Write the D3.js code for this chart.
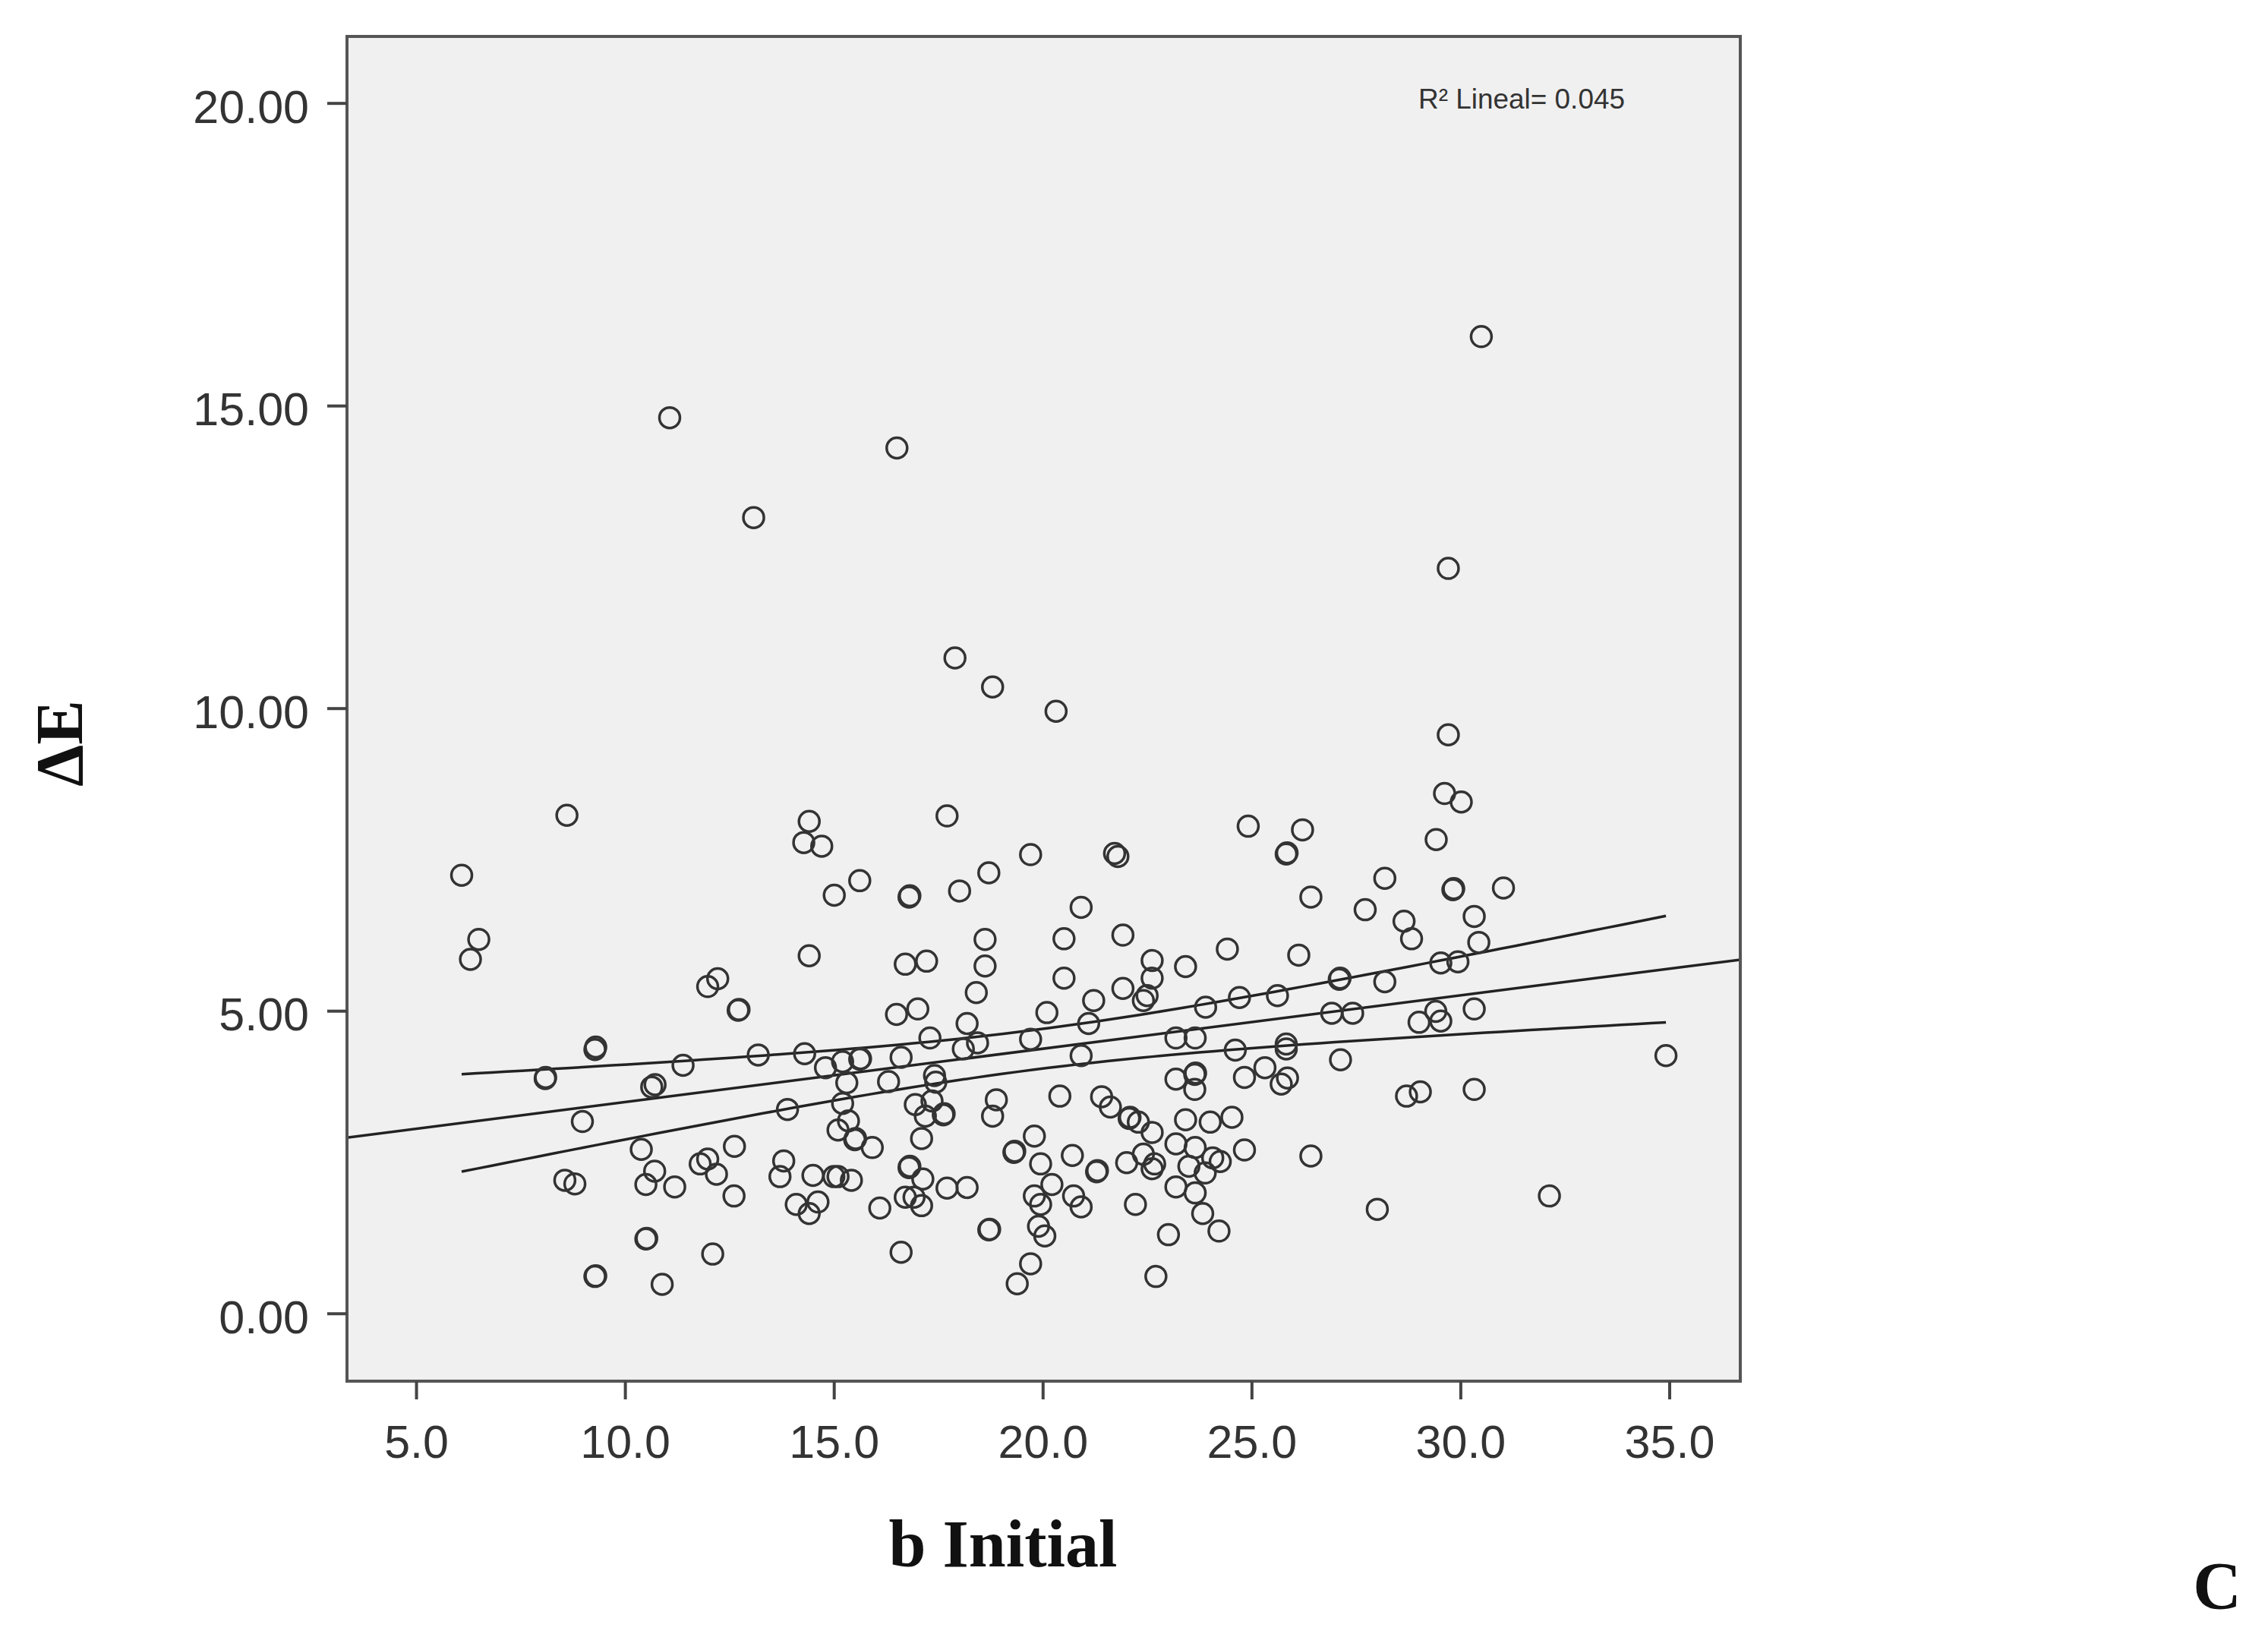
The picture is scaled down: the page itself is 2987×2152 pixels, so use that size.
<!DOCTYPE html>
<html>
<head>
<meta charset="utf-8">
<script src="https://cdn.jsdelivr.net/npm/d3@7"></script>
<style>
  html, body { margin: 0; padding: 0; background: #ffffff; }
  svg { display: block; }
</style>
</head>
<body>
<svg id="chart" width="2987" height="2152"></svg>
<script>
// ---- Data ----
const bInitial = [
  8.61,6.09,6.50,6.30,9.28,9.30,8.09,8.10,11.39,10.64,10.72,8.98,10.39,10.71,10.50,11.19,8.56,8.80,10.50,10.52,9.28,9.30,10.89,
  14.41,14.28,14.71,15.62,15.01,17.71,19.71,18.71,18.01,16.80,16.82,14.41,16.71,17.22,18.62,18.62,18.41,17.01,16.50,12.22,11.98,12.71,12.73,18.19,
  13.19,14.30,14.80,15.21,15.62,15.64,16.61,17.30,18.10,18.44,19.71,15.31,16.31,17.41,17.44,17.35,16.95,17.62,17.64,17.19,17.10,
  15.21,15.35,15.10,15.50,15.52,15.92,13.89,12.62,11.98,11.80,12.19,12.61,13.80,13.71,14.50,15.00,15.10,15.42,14.10,14.62,14.41,16.10,
  16.80,16.82,17.13,16.71,16.92,17.10,17.71,18.19,18.89,18.80,19.80,19.31,19.33,19.95,19.80,19.95,19.90,20.05,20.22,18.71,18.73,16.61,12.10,19.71,19.39,
  24.92,26.22,25.83,25.85,21.72,21.80,20.92,20.51,21.92,26.42,28.19,27.72,24.42,26.13,20.51,23.42,22.62,22.62,21.92,22.50,22.41,21.22,20.10,21.10,
  23.90,24.71,25.62,27.10,27.12,28.19,26.92,27.42,
  20.92,23.19,23.65,24.61,25.83,25.83,27.13,20.41,23.19,23.64,23.66,23.64,24.83,25.32,25.86,25.71,21.41,21.62,22.07,22.09,22.29,22.62,23.42,24.01,24.53,
  23.19,23.65,24.07,24.25,24.83,20.71,21.29,21.31,22.01,22.41,22.68,22.62,23.50,23.89,20.74,20.92,23.19,23.65,23.83,24.22,22.22,23.01,22.71,26.42,28.01,
  29.71,29.62,30.02,29.42,29.82,29.84,31.03,28.65,28.83,30.33,30.44,29.53,29.94,30.33,29.41,29.53,29.01,34.92,28.71,29.04,30.33,32.13,
  11.07,16.51,13.08,17.90,18.80,20.32,29.71,30.50
];
const deltaE = [
  8.23,7.24,6.18,5.85,4.36,4.40,3.88,3.90,4.10,3.74,3.78,3.17,2.71,2.35,2.13,2.09,2.20,2.14,1.23,1.24,0.61,0.62,0.48,
  8.13,7.78,7.72,7.15,6.91,8.22,7.58,7.28,6.98,6.88,6.90,5.91,5.77,5.82,6.18,5.74,5.30,5.03,4.94,5.53,5.40,5.01,5.02,4.79,
  4.27,4.29,4.06,4.16,4.20,4.21,4.23,4.55,4.37,4.47,4.53,3.81,3.83,3.93,3.82,3.51,3.45,3.28,3.30,3.26,2.89,
  3.47,3.18,3.03,2.87,2.89,2.74,3.37,2.76,2.55,2.47,2.30,1.94,2.52,2.26,2.28,2.26,2.26,2.20,1.80,1.84,1.65,1.74,
  2.41,2.43,2.22,1.92,1.92,1.78,2.07,2.08,3.53,3.26,2.93,2.66,2.68,2.47,1.94,1.80,1.44,1.28,2.13,1.38,1.39,1.01,0.98,0.82,0.49,
  8.05,7.99,7.59,7.61,7.60,7.55,6.71,6.19,6.25,6.88,7.19,6.67,6.02,5.92,5.54,5.73,5.83,5.54,5.37,5.25,5.17,5.17,4.97,4.79,
  5.06,5.22,5.25,5.52,5.54,5.48,4.96,4.96,
  4.26,4.55,4.55,4.35,4.45,4.37,4.19,3.59,3.87,3.95,3.97,3.70,3.90,4.06,3.89,3.79,3.58,3.41,3.22,3.24,3.16,2.99,3.20,3.16,3.24,
  2.80,2.74,2.57,2.51,2.70,2.61,2.34,2.36,2.49,2.63,2.47,2.39,2.43,2.32,1.94,1.76,2.09,1.99,1.65,1.36,1.80,1.30,0.61,2.60,1.72,
  9.56,8.59,8.45,7.83,7.00,7.02,7.03,6.48,6.19,6.56,6.13,5.79,5.81,5.03,4.99,4.83,4.81,4.26,3.59,3.66,3.70,1.94,
  14.80,14.30,13.15,10.83,10.35,9.95,12.31,16.14
];
const xTicks = [5, 10, 15, 20, 25, 30, 35];
const yTicks = [0, 5, 10, 15, 20];
const xTitle = "b Initial";
const yTitle = "ΔE";
const fitLabel = "R² Lineal= 0.045";
const panelLetter = "C";

// ---- Layout ----
const W = 2987, H = 2152;
const box = { left: 457, right: 2292, top: 48, bottom: 1819 };

const svg = d3.select("#chart");
svg.append("rect").attr("x", 0).attr("y", 0).attr("width", W).attr("height", H).attr("fill", "#ffffff");

const x = d3.scaleLinear().domain([3.345, 36.7]).range([box.left, box.right]);
const y = d3.scaleLinear().domain([-1.12, 21.1]).range([box.bottom, box.top]);

// plot background
svg.append("rect")
  .attr("x", box.left).attr("y", box.top)
  .attr("width", box.right - box.left).attr("height", box.bottom - box.top)
  .attr("fill", "#f0f0f0");

const clip = svg.append("clipPath").attr("id", "plotclip")
  .append("rect")
  .attr("x", box.left).attr("y", box.top)
  .attr("width", box.right - box.left).attr("height", box.bottom - box.top);

const data = bInitial.map((v, i) => ({ b: v, e: deltaE[i] }));

// ---- Linear fit and 95% mean confidence band ----
const n = data.length;
const xbar = d3.mean(data, d => d.b);
const ybar = d3.mean(data, d => d.e);
const Sxx = d3.sum(data, d => (d.b - xbar) ** 2);
const Sxy = d3.sum(data, d => (d.b - xbar) * (d.e - ybar));
const slope = Sxy / Sxx;
const icpt = ybar - slope * xbar;
const sse = d3.sum(data, d => (d.e - (icpt + slope * d.b)) ** 2);
const sres = Math.sqrt(sse / (n - 2));
const tcrit = 1.97;
const xmin = d3.min(data, d => d.b), xmax = d3.max(data, d => d.b);
const bandX = d3.range(0, 81).map(i => xmin + (xmax - xmin) * i / 80);
const half = xv => tcrit * sres * Math.sqrt(1 / n + (xv - xbar) ** 2 / Sxx);

const line = d3.line().x(d => x(d[0])).y(d => y(d[1]));
const lines = svg.append("g").attr("clip-path", "url(#plotclip)")
  .attr("fill", "none").attr("stroke", "#222").attr("stroke-width", 3.5);
lines.append("path").attr("d", line(x.domain().map(xv => [xv, icpt + slope * xv])));
lines.append("path").attr("d", line(bandX.map(xv => [xv, icpt + slope * xv + half(xv)])));
lines.append("path").attr("d", line(bandX.map(xv => [xv, icpt + slope * xv - half(xv)])));

// ---- Points ----
svg.append("g").attr("clip-path", "url(#plotclip)")
  .selectAll("circle").data(data).join("circle")
  .attr("cx", d => x(d.b)).attr("cy", d => y(d.e)).attr("r", 13.5)
  .attr("fill", "none").attr("stroke", "#333").attr("stroke-width", 3.5);

// ---- Frame ----
svg.append("rect")
  .attr("x", box.left).attr("y", box.top)
  .attr("width", box.right - box.left).attr("height", box.bottom - box.top)
  .attr("fill", "none").attr("stroke", "#555").attr("stroke-width", 4);

// ---- Axes ----
const tickFont = "'Liberation Sans', Arial, Helvetica, sans-serif";
const yAxis = svg.append("g").attr("transform", `translate(${box.left},0)`)
  .call(d3.axisLeft(y).tickValues(yTicks).tickSize(26).tickPadding(24).tickFormat(d3.format(".2f")));
const xAxis = svg.append("g").attr("transform", `translate(0,${box.bottom})`)
  .call(d3.axisBottom(x).tickValues(xTicks).tickSize(24).tickPadding(34).tickFormat(d3.format(".1f")));
[yAxis, xAxis].forEach(g => {
  g.select(".domain").remove();
  g.selectAll(".tick line").attr("stroke", "#444").attr("stroke-width", 4);
  g.selectAll(".tick text").attr("fill", "#333").attr("font-family", tickFont).attr("font-size", 61);
});
yAxis.selectAll(".tick text").attr("dy", "0.42em");

// ---- Titles ----
const serif = "'Liberation Serif', 'Times New Roman', serif";
svg.append("text").attr("x", 1321).attr("y", 2063)
  .attr("text-anchor", "middle").attr("font-family", serif).attr("font-weight", "bold")
  .attr("font-size", 88).attr("fill", "#111").text(xTitle);
svg.append("text").attr("transform", "translate(108,979) rotate(-90)")
  .attr("text-anchor", "middle").attr("font-family", serif).attr("font-weight", "bold")
  .attr("font-size", 88).attr("fill", "#111").text(yTitle);
svg.append("text").attr("x", 2920).attr("y", 2118)
  .attr("text-anchor", "middle").attr("font-family", serif).attr("font-weight", "bold")
  .attr("font-size", 88).attr("fill", "#111").text(panelLetter);

// ---- Fit label ----
svg.append("text").attr("x", 1868).attr("y", 143)
  .attr("font-family", tickFont).attr("font-size", 37).attr("fill", "#333")
  .attr("textLength", 272).attr("lengthAdjust", "spacingAndGlyphs")
  .text(fitLabel);
</script>
</body>
</html>
